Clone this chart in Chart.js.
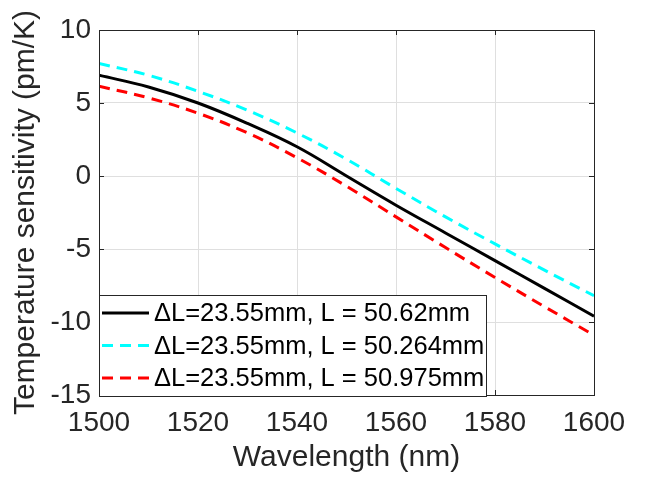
<!DOCTYPE html>
<html>
<head>
<meta charset="utf-8">
<script src="https://cdn.jsdelivr.net/npm/chart.js@4.4.1/dist/chart.umd.min.js"></script>
<style>
  html, body { margin: 0; padding: 0; background: #fff; }
  #wrap { width: 649px; height: 479px; }
</style>
</head>
<body>
<div id="wrap"><canvas id="c" width="649" height="479"></canvas></div>
<script>
// values (pm/K)
const wavelengths = [1500, 1510, 1520, 1530, 1540, 1550, 1560, 1570, 1580, 1590, 1600];
const sensL5062 = [6.9, 6.1, 5.0, 3.6, 2.0, 0.0, -2.0, -3.9, -5.8, -7.7, -9.6];
const sensL50264 = [7.7, 6.9, 5.8, 4.5, 2.95, 1.15, -0.85, -2.8, -4.65, -6.45, -8.2];
const sensL50975 = [6.15, 5.35, 4.3, 2.95, 1.25, -0.7, -2.8, -4.9, -6.95, -8.95, -10.9];
const seriesLabels = [
  'ΔL=23.55mm, L = 50.62mm',
  'ΔL=23.55mm, L = 50.264mm',
  'ΔL=23.55mm, L = 50.975mm'
];
const xTicks = [1500, 1520, 1540, 1560, 1580, 1600];
const yTicks = [-15, -10, -5, 0, 5, 10];

const FONT = "'Liberation Sans', Arial, sans-serif";
const AXIS = '#262626';

const toPoints = (vals) => wavelengths.map((w, i) => ({ x: w, y: vals[i] }));

// MATLAB style box with inward ticks
const boxPlugin = {
  id: 'box',
  afterDatasetsDraw(chart) {
    const { ctx, chartArea: a, scales } = chart;
    ctx.save();
    ctx.strokeStyle = AXIS;
    ctx.lineWidth = 1;
    ctx.strokeRect(a.left + 0.5, a.top + 0.5, a.right - a.left, a.bottom - a.top);
    ctx.beginPath();
    xTicks.forEach(v => {
      const x = Math.round(scales.x.getPixelForValue(v)) + 0.5;
      ctx.moveTo(x, a.bottom); ctx.lineTo(x, a.bottom - 5);
      ctx.moveTo(x, a.top); ctx.lineTo(x, a.top + 5);
    });
    yTicks.forEach(v => {
      const y = Math.round(scales.y.getPixelForValue(v)) + 0.5;
      ctx.moveTo(a.left, y); ctx.lineTo(a.left + 5, y);
      ctx.moveTo(a.right, y); ctx.lineTo(a.right - 5, y);
    });
    ctx.stroke();
    ctx.restore();
  }
};

// legend sitting inside the axes, lower left
const legendPlugin = {
  id: 'insideLegend',
  afterDraw(chart) {
    const { ctx, chartArea: a } = chart;
    const x0 = a.left, y0 = 295, w = 387, h = a.bottom - 295 + 1;
    ctx.save();
    ctx.fillStyle = '#fff';
    ctx.fillRect(x0, y0, w, h);
    ctx.strokeStyle = AXIS;
    ctx.lineWidth = 1;
    ctx.strokeRect(x0 + 0.5, y0 + 0.5, w, h);
    ctx.font = '25.5px ' + FONT;
    ctx.textBaseline = 'middle';
    chart.data.datasets.forEach((ds, i) => {
      const y = 313 + i * 32.5;
      ctx.beginPath();
      ctx.strokeStyle = ds.borderColor;
      ctx.lineWidth = ds.borderWidth;
      ctx.setLineDash(ds.borderDash || []);
      ctx.moveTo(x0 + 3, y);
      ctx.lineTo(x0 + 50, y);
      ctx.stroke();
      ctx.setLineDash([]);
      ctx.fillStyle = '#000';
      ctx.fillText(ds.label, x0 + 55, y + 1);
    });
    ctx.restore();
  }
};

new Chart(document.getElementById('c'), {
  type: 'line',
  data: {
    datasets: [
      { label: seriesLabels[0], data: toPoints(sensL5062), borderColor: '#000000', borderWidth: 3 },
      { label: seriesLabels[1], data: toPoints(sensL50264), borderColor: '#00ffff', borderWidth: 3, borderDash: [11, 7] },
      { label: seriesLabels[2], data: toPoints(sensL50975), borderColor: '#ff0000', borderWidth: 3, borderDash: [11, 7] }
    ]
  },
  options: {
    responsive: false,
    animation: false,
    layout: { padding: { top: 30, right: 55, left: 0, bottom: 0 } },
    elements: {
      point: { radius: 0 },
      line: { tension: 0.4, fill: false }
    },
    plugins: { legend: { display: false }, tooltip: { enabled: false } },
    scales: {
      x: {
        type: 'linear', min: 1500, max: 1600,
        afterBuildTicks: (s) => { s.ticks = xTicks.map(v => ({ value: v })); },
        afterFit: (s) => { s.height = 84; },
        grid: { color: '#dfdfdf', drawTicks: false },
        border: { display: false },
        ticks: { color: AXIS, font: { family: FONT, size: 28 }, padding: 11, maxRotation: 0, callback: (v) => String(v) },
        title: { display: true, text: 'Wavelength (nm)', color: AXIS, font: { family: FONT, size: 30 }, padding: { top: 0, bottom: 3 } }
      },
      y: {
        min: -15, max: 10,
        afterBuildTicks: (s) => { s.ticks = yTicks.map(v => ({ value: v })); },
        afterFit: (s) => { s.width = 99; },
        grid: { color: '#dfdfdf', drawTicks: false },
        border: { display: false },
        ticks: { color: AXIS, font: { family: FONT, size: 28 }, padding: 8, callback: (v) => String(v) },
        title: { display: true, text: 'Temperature sensitivity (pm/K)', color: AXIS, font: { family: FONT, size: 30 }, padding: { top: 8, bottom: 0 } }
      }
    }
  },
  plugins: [boxPlugin, legendPlugin]
});
</script>
</body>
</html>
